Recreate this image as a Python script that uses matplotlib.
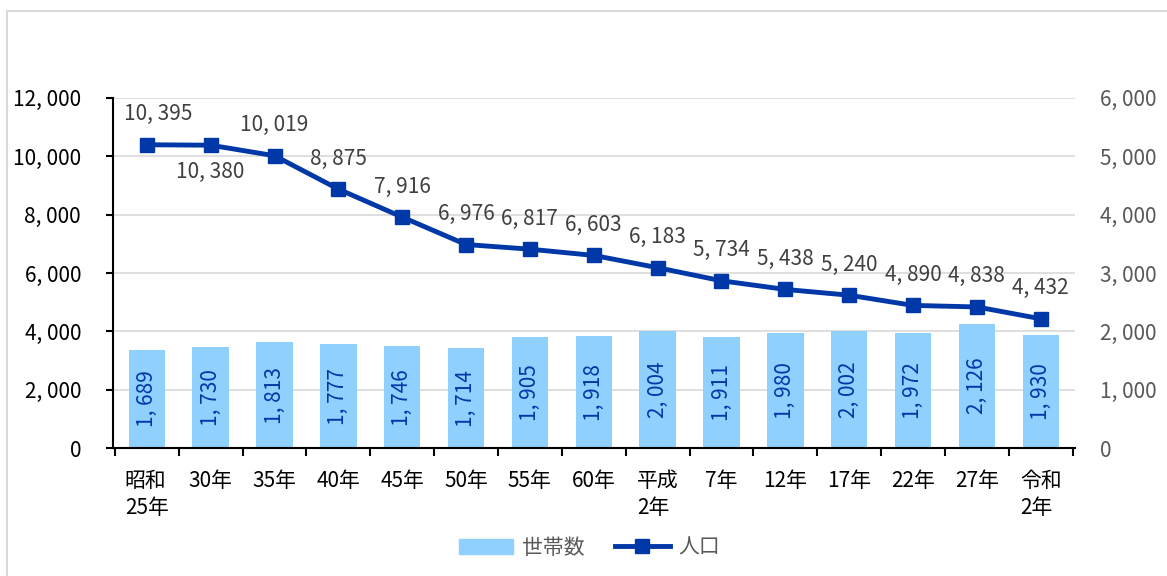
import matplotlib
matplotlib.use('Agg')
import matplotlib.pyplot as plt
from matplotlib.lines import Line2D
from matplotlib.patches import Patch

plt.rcParams['font.family'] = ['Noto Sans CJK JP', 'DejaVu Sans']

categories = ['昭和\n25年', '30年', '35年', '40年', '45年', '50年', '55年', '60年',
              '平成\n2年', '7年', '12年', '17年', '22年', '27年', '令和\n2年']
households = [1689, 1730, 1813, 1777, 1746, 1714, 1905, 1918, 2004, 1911,
              1980, 2002, 1972, 2126, 1930]
population = [10395, 10380, 10019, 8875, 7916, 6976, 6817, 6603, 6183, 5734,
              5438, 5240, 4890, 4838, 4432]
below_labels = [1]  # which population labels sit under the point

bar_color = '#8FD0FF'
line_color = '#0038A8'
text_gray = '#404040'
fs = 15


def fmt(v):
    return f'{v:,}'.replace(',', ', ')


fig = plt.figure(figsize=(11.67, 5.76), dpi=100)
ax = fig.add_axes([0.0968, 0.222, 0.824, 0.608])
ax2 = ax.twinx()

x = list(range(len(categories)))

# bars on the right axis, below everything
ax2.set_axisbelow(True)
ax2.grid(axis='y', color='#D9D9D9', linewidth=1.2)
ax2.bar(x, households, width=0.57, color=bar_color, zorder=2)
for xi, v in zip(x, households):
    ax2.text(xi, v / 2, fmt(v), rotation=90, ha='center', va='center',
             color=line_color, fontsize=fs, zorder=3)
ax2.set_ylim(0, 6000)
ax2.set_yticks(range(0, 6001, 1000))
ax2.set_yticklabels([fmt(v) for v in range(0, 6001, 1000)])
ax2.tick_params(axis='y', length=0, labelsize=fs, labelcolor='#595959', pad=18)
for s in ax2.spines.values():
    s.set_visible(False)

# line on the left axis, on top
ax.set_zorder(ax2.get_zorder() + 1)
ax.patch.set_visible(False)
ax.plot(x, population, color=line_color, linewidth=3.5, marker='s',
        markersize=10, zorder=4)
for i, (xi, v) in enumerate(zip(x, population)):
    dy = -19 if i in below_labels else 22
    dx = 8 if i == 0 else 0
    ax.annotate(fmt(v), (xi, v), xytext=(dx, dy), textcoords='offset points',
                ha='center', va='center', fontsize=fs, color=text_gray)

ax.set_ylim(0, 12000)
ax.set_yticks(range(0, 12001, 2000))
ax.set_yticklabels([fmt(v) for v in range(0, 12001, 2000)])
ax.set_xlim(-0.53, len(categories) - 0.47)
ax.set_xticks(x)
ax.set_xticklabels(categories, fontsize=fs, color='black', linespacing=1.25)
for lab in ax.get_xticklabels():
    lab.set_horizontalalignment('center')
    lab.set_multialignment('left')
ax.tick_params(axis='x', length=0, pad=16)
ax.set_xticks([i + 0.5 for i in range(-1, len(categories))], minor=True)
ax.tick_params(axis='x', which='minor', length=6, width=1.5, direction='out')
ax.tick_params(axis='y', labelsize=fs, labelcolor='black', length=5, width=1.5,
               pad=18)
ax.spines['top'].set_visible(False)
ax.spines['right'].set_visible(False)
ax.spines['left'].set_linewidth(1.5)
ax.spines['bottom'].set_linewidth(1.5)

handles = [Patch(color=bar_color),
           Line2D([0], [0], color=line_color, linewidth=3.5, marker='s', markersize=10)]
fig.legend(handles, ['世帯数', '人口'], loc='center', bbox_to_anchor=(0.505, 0.049),
           ncol=2, frameon=False, fontsize=fs, labelcolor='#595959',
           handlelength=2.6, columnspacing=1.5, handletextpad=0.4)

# outer frame (top and left edge visible)
fig.add_artist(Line2D([7 / 1167, 7 / 1167, 1], [0, 1 - 11 / 576, 1 - 11 / 576],
                      transform=fig.transFigure, color='#D9D9D9', linewidth=1.5))

fig.savefig('out.png', dpi=100, facecolor='white')
